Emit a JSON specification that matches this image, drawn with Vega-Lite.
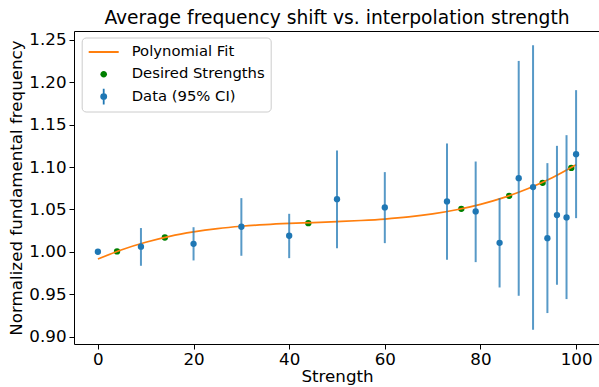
{
  "$schema": "https://vega.github.io/schema/vega-lite/v6.json",
  "width": 526,
  "height": 313,
  "autosize": "none",
  "padding": {"left": 74, "top": 31, "right": 0, "bottom": 43},
  "background": "white",
  "title": {"text": "Average frequency shift vs. interpolation strength", "fontSize": 18.7, "fontWeight": "normal", "color": "black", "anchor": "middle", "offset": 3},
  "datasets": {
    "measured": [
      {"strength": 0, "value": 1.000, "lo": 1.000, "hi": 1.000},
      {"strength": 9, "value": 1.006, "lo": 0.9835, "hi": 1.028},
      {"strength": 20, "value": 1.0094, "lo": 0.9898, "hi": 1.029},
      {"strength": 30, "value": 1.0295, "lo": 0.9953, "hi": 1.0633},
      {"strength": 40, "value": 1.0189, "lo": 0.9925, "hi": 1.0448},
      {"strength": 50, "value": 1.0621, "lo": 1.0043, "hi": 1.1195},
      {"strength": 60, "value": 1.0523, "lo": 1.0102, "hi": 1.094},
      {"strength": 73, "value": 1.0594, "lo": 0.9906, "hi": 1.1278},
      {"strength": 79, "value": 1.0476, "lo": 0.9878, "hi": 1.1065},
      {"strength": 84, "value": 1.0106, "lo": 0.9579, "hi": 1.0633},
      {"strength": 88, "value": 1.0869, "lo": 0.9481, "hi": 1.2252},
      {"strength": 91, "value": 1.0763, "lo": 0.908, "hi": 1.2437},
      {"strength": 94, "value": 1.0161, "lo": 0.9277, "hi": 1.1046},
      {"strength": 96, "value": 1.0433, "lo": 0.9611, "hi": 1.125},
      {"strength": 98, "value": 1.0405, "lo": 0.9442, "hi": 1.1376},
      {"strength": 100, "value": 1.1152, "lo": 1.0397, "hi": 1.1907}
    ],
    "desired": [
      {"strength": 4, "value": 1.0004},
      {"strength": 14, "value": 1.0169},
      {"strength": 44, "value": 1.0338},
      {"strength": 76, "value": 1.0507},
      {"strength": 86, "value": 1.066},
      {"strength": 93, "value": 1.0814},
      {"strength": 99, "value": 1.099}
    ],
    "fit": [
      {"strength": 0, "value": 0.9914},
      {"strength": 5, "value": 1.0024},
      {"strength": 10, "value": 1.0112},
      {"strength": 15, "value": 1.0182},
      {"strength": 20, "value": 1.0234},
      {"strength": 25, "value": 1.0273},
      {"strength": 30, "value": 1.0301},
      {"strength": 35, "value": 1.0321},
      {"strength": 40, "value": 1.0335},
      {"strength": 45, "value": 1.0345},
      {"strength": 50, "value": 1.0356},
      {"strength": 55, "value": 1.0369},
      {"strength": 60, "value": 1.0386},
      {"strength": 65, "value": 1.0411},
      {"strength": 70, "value": 1.0447},
      {"strength": 75, "value": 1.0496},
      {"strength": 80, "value": 1.0560},
      {"strength": 85, "value": 1.0642},
      {"strength": 90, "value": 1.0746},
      {"strength": 95, "value": 1.0873},
      {"strength": 100, "value": 1.1026}
    ],
    "legendItems": [
      {"series": "Polynomial Fit"},
      {"series": "Desired Strengths"},
      {"series": "Data (95% CI)"}
    ]
  },
  "encoding": {
    "x": {"field": "strength", "type": "quantitative",
      "scale": {"domain": [-5, 105], "nice": false, "zero": false},
      "axis": {"values": [0, 20, 40, 60, 80, 100], "title": "Strength", "labelPadding": 2, "titlePadding": 1}},
    "y": {"field": "value", "type": "quantitative",
      "scale": {"domain": [0.8912, 1.2605], "nice": false, "zero": false},
      "axis": {"values": [0.9, 0.95, 1.0, 1.05, 1.1, 1.15, 1.2, 1.25], "format": ".2f", "title": "Normalized fundamental frequency"}}
  },
  "layer": [
    {
      "data": {"name": "desired"},
      "mark": {"type": "circle", "size": 40, "opacity": 1, "color": "#008000"}
    },
    {
      "data": {"name": "fit"},
      "mark": {"type": "line", "strokeWidth": 1.7, "interpolate": "monotone", "color": "#ff7f0e"}
    },
    {
      "data": {"name": "measured"},
      "mark": {"type": "rule", "strokeWidth": 2, "color": "#1f77b4", "opacity": 0.75},
      "encoding": {"y": {"field": "lo", "type": "quantitative"}, "y2": {"field": "hi"}}
    },
    {
      "data": {"name": "measured"},
      "mark": {"type": "circle", "size": 40, "opacity": 1, "color": "#1f77b4"}
    },
    {
      "data": {"name": "legendItems"},
      "mark": {"type": "point", "filled": true, "opacity": 0, "strokeWidth": 1.8},
      "encoding": {
        "x": {"datum": 50, "type": "quantitative"},
        "y": {"datum": 1.0, "type": "quantitative"},
        "fill": {"field": "series", "type": "nominal",
          "scale": {"domain": ["Polynomial Fit", "Desired Strengths", "Data (95% CI)"], "range": ["transparent", "#008000", "#1f77b4"]},
          "legend": {
            "orient": "none", "legendX": 7.7, "legendY": 6.5, "title": null,
            "labelFontSize": 14.8, "labelColor": "black", "symbolSize": 900,
            "symbolOpacity": 1, "symbolStrokeWidth": 1.8, "clipHeight": 17,
            "strokeColor": "#cccccc", "fillColor": "rgba(255,255,255,0.8)", "cornerRadius": 4,
            "padding": 6, "rowPadding": 5.3, "labelOffset": 12
          }},
        "stroke": {"field": "series", "type": "nominal",
          "scale": {"domain": ["Polynomial Fit", "Desired Strengths", "Data (95% CI)"], "range": ["#ff7f0e", "transparent", "#1f77b4"]},
          "legend": {
            "orient": "none", "legendX": 7.7, "legendY": 6.5, "title": null,
            "labelFontSize": 14.8, "labelColor": "black", "symbolSize": 900,
            "symbolOpacity": 1, "symbolStrokeWidth": 1.8, "clipHeight": 17,
            "strokeColor": "#cccccc", "fillColor": "rgba(255,255,255,0.8)", "cornerRadius": 4,
            "padding": 6, "rowPadding": 5.3, "labelOffset": 12
          }},
        "shape": {"field": "series", "type": "nominal",
          "scale": {"domain": ["Polynomial Fit", "Desired Strengths", "Data (95% CI)"], "range": ["M-1,0H1", "M-0.22,0A0.22,0.22,0,1,1,0.22,0A0.22,0.22,0,1,1,-0.22,0Z", "M-0.17,0A0.17,0.17,0,1,1,0.17,0A0.17,0.17,0,1,1,-0.17,0ZM0,-0.53V0.53"]},
          "legend": {
            "orient": "none", "legendX": 7.7, "legendY": 6.5, "title": null,
            "labelFontSize": 14.8, "labelColor": "black", "symbolSize": 900,
            "symbolOpacity": 1, "symbolStrokeWidth": 1.8, "clipHeight": 17,
            "strokeColor": "#cccccc", "fillColor": "rgba(255,255,255,0.8)", "cornerRadius": 4,
            "padding": 6, "rowPadding": 5.3, "labelOffset": 12
          }}
      }
    }
  ],
  "config": {
    "font": "DejaVu Sans",
    "view": {"stroke": "black", "strokeWidth": 1},
    "axis": {
      "domain": false, "grid": false,
      "tickColor": "black", "tickSize": 5, "tickWidth": 1,
      "labelColor": "black", "labelFontSize": 16.7, "labelPadding": 3,
      "titleColor": "black", "titleFontSize": 16.7, "titleFontWeight": "normal", "titlePadding": 3,
      "labelFlush": false
    }
  }
}
